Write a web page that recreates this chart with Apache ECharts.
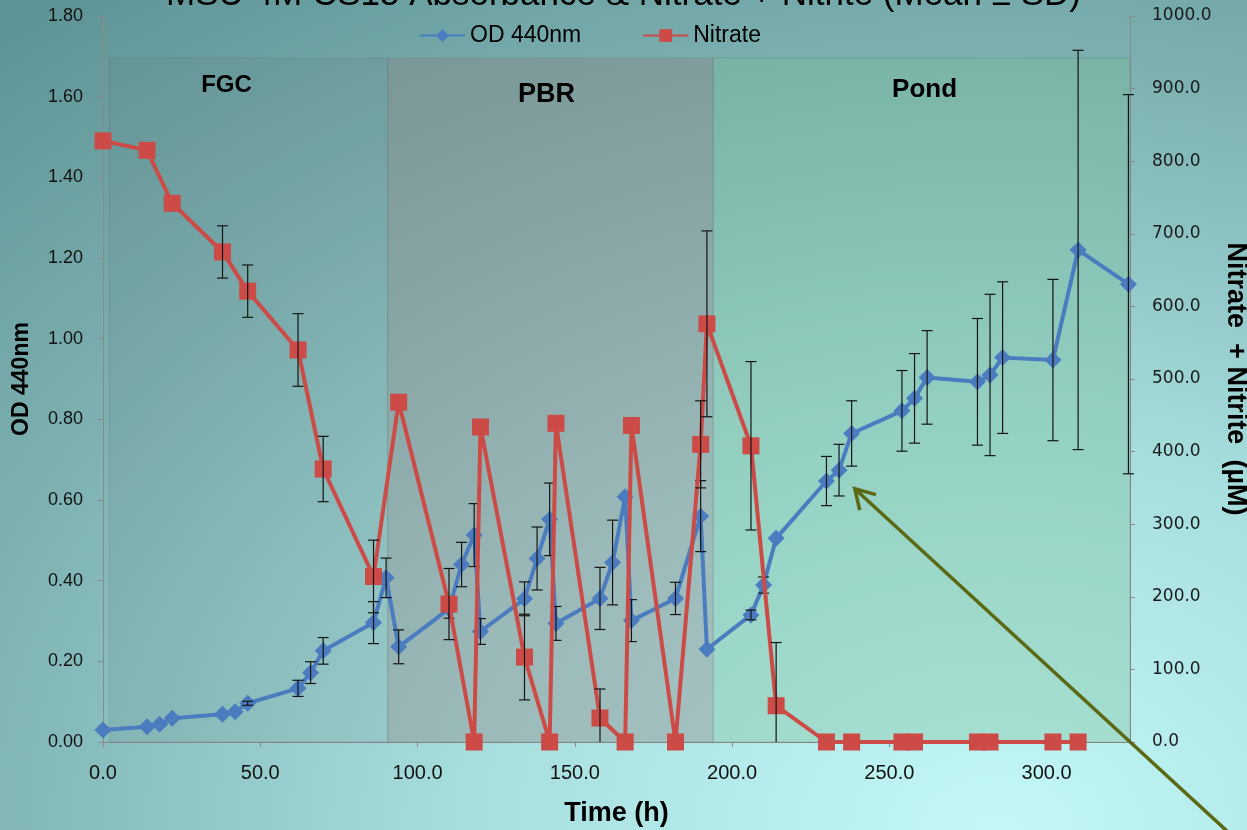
<!DOCTYPE html>
<html>
<head>
<meta charset="utf-8">
<script src="https://cdn.jsdelivr.net/npm/echarts@6/dist/echarts.min.js"></script>
<style>
html,body{margin:0;padding:0;overflow:hidden;}
#chart{width:1247px;height:830px;background:radial-gradient(ellipse 120% 130% at 80% 100%,#c4f8f8 0%,#a6dddd 36%,#7bafb0 72%,#5e9395 100%);}
</style>
</head>
<body>
<div id="chart"></div>
<script>
// ---- data ----
const odTime = [0,14,18,22,38,42,46,62,66,70,86,90,94,110,114,118,120,134,138,142,144,158,162,166,168,182,190,192,206,210,214,230,234,238,254,258,262,278,282,286,302,310,326];
const odMean = [0.030,0.038,0.044,0.059,0.069,0.075,0.096,0.133,0.172,0.226,0.296,0.407,0.236,0.330,0.440,0.513,0.274,0.355,0.455,0.552,0.294,0.356,0.445,0.608,0.301,0.356,0.560,0.230,0.315,0.389,0.505,0.647,0.674,0.765,0.821,0.852,0.904,0.893,0.910,0.953,0.947,1.220,1.135];
const odSD   = [0,0,0,0,0,0,0.005,0.020,0.027,0.033,0.052,0.049,0.042,0.023,0.055,0.078,0.032,0.042,0.078,0.090,0.042,0.077,0.105,0,0.052,0.040,0.088,0,0.012,0.020,0,0.061,0.064,0.081,0.100,0.111,0.116,0.157,0.200,0.188,0.200,0.495,0.470];

const nitTime = [0,14,22,38,46,62,70,86,94,110,118,120,134,142,144,158,166,168,182,190,192,206,214,230,238,254,258,278,282,302,310];
const nitMean = [828,815,742,675,621,540,376,228,468,190,0,434,117,0,439,33,0,436,0,410,576,408,50,0,0,0,0,0,0,0,0];
const nitSD   = [0,0,0,36,36,50,45,50,0,49,0,0,59,0,0,40,0,0,0,60,128,116,87,0,0,0,0,0,0,0,0];

const regionNames = ['FGC','PBR','Pond'];
const regionStart = [2, 90.5, 194];
const regionEnd   = [90.5, 194, 326.5];
const regionTop   = 1.696;

const xTicks = {min:0, max:326.5, interval:50};
const yLeftTicks = {min:0, max:1.8, interval:0.2};
const yRightTicks = {min:0, max:1000, interval:100};

const titleText = 'MSU 4M CS15 Absorbance & Nitrate + Nitrite (Mean \u00b1 SD)';

// ---- styles ----
const regionFill = ['rgba(95,115,115,0.13)','rgba(140,128,128,0.38)','rgba(120,188,148,0.35)'];
const regionLabel = [
  {fontSize:24, distance:16, offset:[-22,0]},
  {fontSize:27, distance:24, offset:[-4,0]},
  {fontSize:26, distance:19, offset:[3,0]}
];

const chart = echarts.init(document.getElementById('chart'), null, {renderer:'canvas'});

function errRender(params, api){
  const t = api.value(0), m = api.value(1), s = api.value(2);
  if (!s) return;
  const lo = Math.max(0, m - s), hi = m + s;
  const pHi = api.coord([t, hi]);
  const pLo = api.coord([t, lo]);
  const st = {stroke:'#141414', lineWidth:1.2};
  const ch = [
    {type:'line', shape:{x1:pLo[0], y1:pLo[1], x2:pHi[0], y2:pHi[1]}, style:st},
    {type:'line', shape:{x1:pHi[0]-5.5, y1:pHi[1], x2:pHi[0]+5.5, y2:pHi[1]}, style:st}
  ];
  if (m - s >= 0) ch.push({type:'line', shape:{x1:pLo[0]-5.5, y1:pLo[1], x2:pLo[0]+5.5, y2:pLo[1]}, style:st});
  return {type:'group', children:ch};
}

const axisGray = '#8a8a8a';
const fam = "'Liberation Sans', Arial, sans-serif";

const option = {
  animation:false,
  backgroundColor:'transparent',
  textStyle:{fontFamily:fam},
  title:{
    text:titleText, left:'center', top:-27,
    textStyle:{fontSize:35, fontWeight:'normal', color:'#000', fontFamily:fam}
  },
  legend:{
    data:['OD 440nm','Nitrate'], left:414, top:19,
    itemWidth:45, itemHeight:16, itemGap:61,
    textStyle:{fontSize:23, color:'#000', fontFamily:fam}
  },
  grid:{left:103, right:117, top:16, bottom:88, containLabel:false, outerBoundsMode:'none'},
  xAxis:{
    type:'value', min:xTicks.min, max:xTicks.max, interval:xTicks.interval,
    name:'Time (h)', nameLocation:'middle', nameGap:58,
    nameTextStyle:{fontSize:27, fontWeight:'bold', color:'#000', fontFamily:fam},
    axisLine:{show:true, lineStyle:{color:axisGray, width:1}},
    axisTick:{show:true, inside:false, length:5, lineStyle:{color:axisGray}},
    axisLabel:{fontSize:20, color:'#111', margin:21, showMaxLabel:false, formatter:v=>v.toFixed(1), fontFamily:fam},
    splitLine:{show:false}
  },
  yAxis:[
    {
      type:'value', min:yLeftTicks.min, max:yLeftTicks.max, interval:yLeftTicks.interval, position:'left',
      name:'OD 440nm', nameLocation:'middle', nameGap:70, nameRotate:90,
      nameTextStyle:{fontSize:23, fontWeight:'bold', color:'#000', fontFamily:fam},
      axisLine:{show:true, lineStyle:{color:axisGray, width:1}},
      axisTick:{show:true, inside:false, length:5, lineStyle:{color:axisGray}},
      axisLabel:{fontSize:18, color:'#111', margin:20, formatter:v=>v.toFixed(2), fontFamily:fam},
      splitLine:{show:false}
    },
    {
      type:'value', min:yRightTicks.min, max:yRightTicks.max, interval:yRightTicks.interval, position:'right',
      name:'Nitrate  + Nitrite  (\u00b5M)', nameLocation:'middle', nameGap:92, nameRotate:-90,
      nameTextStyle:{fontSize:27, fontWeight:'bold', color:'#000', fontFamily:fam},
      axisLine:{show:true, lineStyle:{color:axisGray, width:1}},
      axisTick:{show:true, inside:false, length:5, lineStyle:{color:axisGray}},
      axisLabel:{fontSize:17, color:'#1a1a1a', margin:22, formatter:v=>v.toFixed(1), fontFamily:"'DejaVu Sans', sans-serif"},
      splitLine:{show:false}
    }
  ],
  series:[
    {
      name:'OD 440nm', type:'line', yAxisIndex:0, z:2,
      data: odTime.map((t,i)=>[t, odMean[i]]),
      symbol:'diamond', symbolSize:17,
      lineStyle:{color:'#4a7cbf', width:4},
      itemStyle:{color:'#4a7cbf'},
      markArea:{
        silent:true, z:1,
        data: regionNames.map((n,i)=>[
          {name:n, xAxis:regionStart[i], yAxis:0,
           itemStyle:{color:regionFill[i], borderColor:'rgba(90,90,90,0.18)', borderWidth:1},
           label:{show:true, position:'insideTop', distance:regionLabel[i].distance, offset:regionLabel[i].offset,
                  fontSize:regionLabel[i].fontSize, fontWeight:'bold', color:'#000', fontFamily:fam}},
          {xAxis:regionEnd[i], yAxis:regionTop}
        ])
      }
    },
    {
      name:'OD SD', type:'custom', yAxisIndex:0, z:3, silent:true,
      renderItem:errRender, encode:{x:0, y:1},
      data: odTime.map((t,i)=>[t, odMean[i], odSD[i]])
    },
    {
      name:'Nitrate', type:'line', yAxisIndex:1, z:4,
      data: nitTime.map((t,i)=>[t, nitMean[i]]),
      symbol:'rect', symbolSize:17,
      lineStyle:{color:'#cc4b47', width:4},
      itemStyle:{color:'#cc4b47'}
    },
    {
      name:'Nitrate SD', type:'custom', yAxisIndex:1, z:5, silent:true,
      renderItem:errRender, encode:{x:0, y:1},
      data: nitTime.map((t,i)=>[t, nitMean[i], nitSD[i]])
    }
  ]
};
chart.setOption(option);

// annotation arrow pointing at the pond growth phase
const tip = chart.convertToPixel({xAxisIndex:0, yAxisIndex:0}, [239, 0.628]);
const tail = [1240, 843];
const ang = Math.atan2(tail[1]-tip[1], tail[0]-tip[0]);
const L = 22;
const a1 = [tip[0] + L*Math.cos(ang-0.47), tip[1] + L*Math.sin(ang-0.47)];
const a2 = [tip[0] + L*Math.cos(ang+0.60), tip[1] + L*Math.sin(ang+0.60)];
chart.setOption({
  graphic:[
    {type:'line', z:100, shape:{x1:tail[0], y1:tail[1], x2:tip[0], y2:tip[1]}, style:{stroke:'#5b6914', lineWidth:3.5}},
    {type:'polyline', z:100, shape:{points:[a1, tip, a2]}, style:{stroke:'#5b6914', lineWidth:3.5, fill:null}}
  ]
});
</script>
</body>
</html>
